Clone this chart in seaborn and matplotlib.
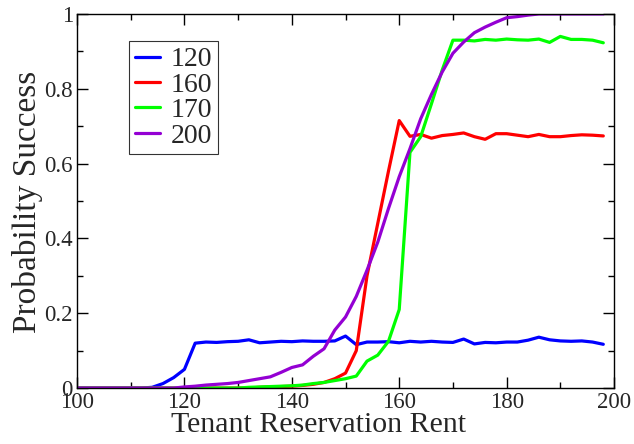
import pandas as pd
import matplotlib.pyplot as plt
import seaborn as sns

# rent values (x axis), step 2
rent = list(range(100, 200, 2))

# probability of success for each landlord reservation level
p120 = [0, 0, 0, 0, 0, 0, 0, 0.002, 0.012, 0.028,
        0.05, 0.12, 0.123, 0.122, 0.124, 0.125, 0.129, 0.121, 0.123, 0.125,
        0.124, 0.126, 0.125, 0.125, 0.126, 0.139, 0.116, 0.123, 0.123, 0.124,
        0.121, 0.125, 0.123, 0.125, 0.123, 0.122, 0.131, 0.118, 0.122, 0.121,
        0.123, 0.123, 0.128, 0.136, 0.129, 0.126, 0.125, 0.126, 0.123, 0.117]
p160 = [0, 0, 0, 0, 0, 0, 0, 0, 0, 0,
        0, 0, 0, 0, 0, 0, 0, 0.002, 0.003, 0.004,
        0.005, 0.007, 0.01, 0.015, 0.025, 0.04, 0.1, 0.3, 0.44, 0.58,
        0.715, 0.673, 0.678, 0.668, 0.675, 0.678, 0.682, 0.672, 0.665, 0.68,
        0.68, 0.676, 0.672, 0.678, 0.672, 0.672, 0.675, 0.677, 0.676, 0.674]
p170 = [0, 0, 0, 0, 0, 0, 0, 0, 0, 0,
        0, 0, 0, 0, 0, 0, 0.002, 0.003, 0.004, 0.005,
        0.006, 0.008, 0.012, 0.015, 0.02, 0.025, 0.032, 0.072, 0.088, 0.125,
        0.21, 0.63, 0.672, 0.76, 0.85, 0.93, 0.93, 0.928, 0.932, 0.93,
        0.933, 0.931, 0.93, 0.933, 0.924, 0.94, 0.932, 0.932, 0.93, 0.923]
p200 = [0, 0, 0, 0, 0, 0, 0, 0, 0, 0,
        0.003, 0.005, 0.008, 0.01, 0.012, 0.015, 0.02, 0.025, 0.03, 0.042,
        0.055, 0.062, 0.085, 0.105, 0.155, 0.19, 0.245, 0.315, 0.39, 0.48,
        0.565, 0.64, 0.72, 0.785, 0.845, 0.895, 0.925, 0.95, 0.965, 0.978,
        0.99, 0.993, 0.997, 1.0, 1.0, 1.0, 1.0, 1.0, 1.0, 1.0]

labels = ["120", "160", "170", "200"]
colors = ["#0000ff", "#ff0000", "#00ff00", "#9400d3"]

df = pd.DataFrame({
    "rent": rent * 4,
    "prob": p120 + p160 + p170 + p200,
    "level": sum([[lab] * len(rent) for lab in labels], []),
})

sns.set_style("ticks")
plt.rcParams["font.family"] = ["Liberation Serif", "DejaVu Serif"]

fig = plt.figure(figsize=(6.34, 4.44), dpi=100)
ax = fig.add_axes([0.1215, 0.126, 0.847, 0.8425])

sns.lineplot(data=df, x="rent", y="prob", hue="level", palette=colors,
             linewidth=2.3, ax=ax)

ax.set_xlim(100, 200)
ax.set_ylim(0, 1)
ax.set_xticks([100, 120, 140, 160, 180, 200])
ax.set_xticks(range(110, 200, 20), minor=True)
ax.set_yticks([0, 0.2, 0.4, 0.6, 0.8, 1])
ax.set_yticklabels(["0", "0.2", "0.4", "0.6", "0.8", "1"])
ax.set_yticks([0.1, 0.3, 0.5, 0.7, 0.9], minor=True)
ax.tick_params(which="both", direction="in", top=True, right=True,
               labelsize=16.5, width=1, color="black", pad=3)
ax.tick_params(which="major", length=8)
ax.tick_params(which="minor", length=4)
for s in ax.spines.values():
    s.set_linewidth(1)
    s.set_color("black")

ax.set_xlabel("Tenant Reservation Rent", fontsize=21.5)
ax.xaxis.set_label_coords(0.45, -0.064)
ax.set_ylabel("Probability Success", fontsize=24)
ax.yaxis.set_label_coords(-0.063, 0.497)

leg = ax.legend(loc="upper left", bbox_to_anchor=(0.097, 0.927), fontsize=20,
                frameon=True, fancybox=False, handlelength=0.9,
                handletextpad=0.4, borderpad=0.2, labelspacing=0.0,
                borderaxespad=0)
leg.get_frame().set_edgecolor("black")
leg.get_frame().set_linewidth(0.8)
leg.set_title(None)

plt.savefig("out.png", dpi=100)
